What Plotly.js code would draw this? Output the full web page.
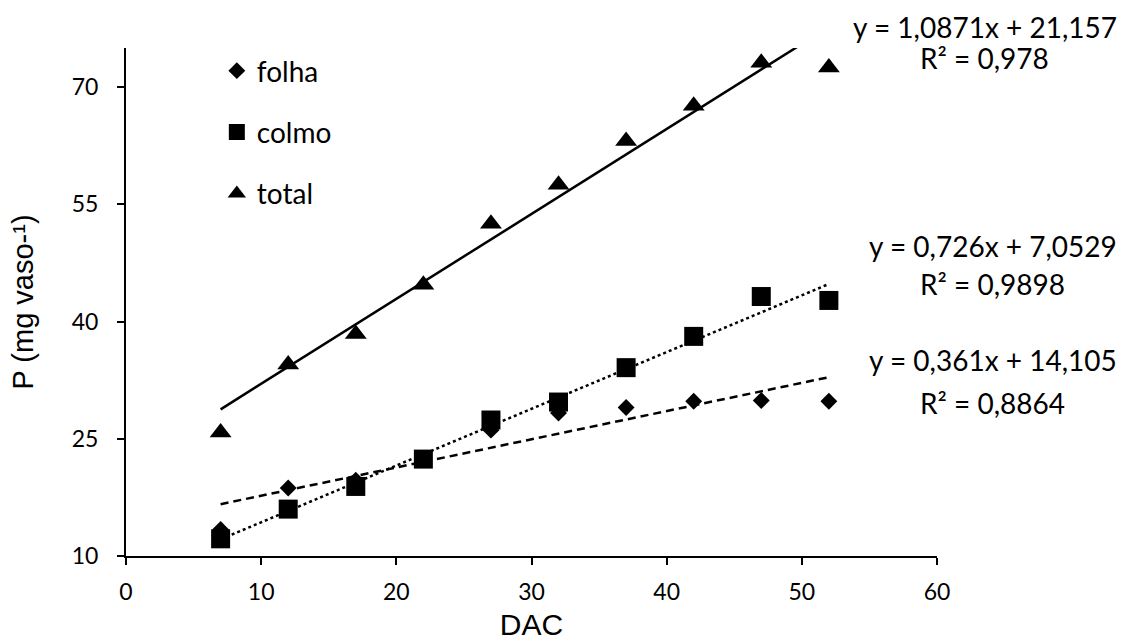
<!DOCTYPE html>
<html>
<head>
<meta charset="utf-8">
<script src="https://cdn.plot.ly/plotly-3.0.1.min.js"></script>
<style>html,body{margin:0;padding:0;background:#fff}#chart{width:1130px;height:644px}</style>
</head>
<body>
<div id="chart"></div>
<script>
var dac = [7, 12, 17, 22, 27, 32, 37, 42, 47, 52];
var folha = [13.4, 18.7, 19.7, 22.4, 26.1, 28.3, 29.0, 29.8, 29.9, 29.8];
var colmo = [12.2, 16.0, 18.9, 22.4, 27.4, 29.7, 34.1, 38.1, 43.2, 42.7];
var total = [25.8, 34.5, 38.4, 44.7, 52.5, 57.5, 63.1, 67.6, 73.1, 72.5];
var fitFolha = {a: 0.361, b: 14.105, r2: "0,8864", eq: "y = 0,361x + 14,105"};
var fitColmo = {a: 0.726, b: 7.0529, r2: "0,9898", eq: "y = 0,726x + 7,0529"};
var fitTotal = {a: 1.0871, b: 21.157, r2: "0,978", eq: "y = 1,0871x + 21,157"};
var xTicks = [0, 10, 20, 30, 40, 50, 60];
var yTicks = [10, 25, 40, 55, 70];

function line(f) {
  var xs = [dac[0], dac[dac.length - 1]];
  return {x: xs, y: xs.map(function (v) { return f.a * v + f.b; })};
}
var lf = line(fitFolha), lc = line(fitColmo), lt = line(fitTotal);

var traces = [
  {x: lf.x, y: lf.y, mode: 'lines', line: {color: '#000', width: 2.5, dash: '8px,5px'}, showlegend: false, hoverinfo: 'skip'},
  {x: lc.x, y: lc.y, mode: 'lines', line: {color: '#000', width: 2.5, dash: 'dot'}, showlegend: false, hoverinfo: 'skip'},
  {x: lt.x, y: lt.y, mode: 'lines', line: {color: '#000', width: 2.5}, showlegend: false, hoverinfo: 'skip'},
  {x: dac, y: folha, name: 'folha', mode: 'markers', marker: {symbol: 'diamond', size: 13, color: '#000'}, legendgroup: 'a'},
  {x: dac, y: colmo, name: 'colmo', mode: 'markers', marker: {symbol: 'square', size: 19, color: '#000'}, legendgroup: 'b'},
  {x: dac, y: total, name: 'total', mode: 'markers', marker: {symbol: 'triangle-up', size: 19, color: '#000'}, legendgroup: 'c'}
];

var annFont = {family: 'Lato, Carlito, sans-serif', size: 28, color: '#000'};
function ann(text, x, y) {
  return {text: text, xref: 'paper', yref: 'paper', x: x, y: y, xanchor: 'center', yanchor: 'middle', showarrow: false, font: annFont};
}

var layout = {
  width: 1130, height: 644,
  margin: {l: 126, r: 193, t: 48, b: 88},
  paper_bgcolor: '#fff', plot_bgcolor: '#fff',
  showlegend: true,
  legend: {x: 0.112, y: 1.004, xanchor: 'left', yanchor: 'top', traceorder: 'grouped', tracegroupgap: 22,
           font: {family: 'Lato, Carlito, sans-serif', size: 28, color: '#000'}, bgcolor: 'rgba(0,0,0,0)'},
  xaxis: {range: [0, 60], tickvals: xTicks, ticktext: xTicks.map(String), showgrid: false, zeroline: false,
          showline: true, linecolor: '#000', linewidth: 2, ticks: 'outside', ticklen: 7, tickwidth: 2, tickcolor: '#000',
          ticklabelstandoff: 7,
          tickfont: {family: 'Lato, Carlito, sans-serif', size: 23, color: '#000'},
          title: {text: 'DAC', font: {family: 'Liberation Sans, Arial, sans-serif', size: 30, color: '#000'}, standoff: 10}},
  yaxis: {range: [10, 75], tickvals: yTicks, ticktext: yTicks.map(String), showgrid: false, zeroline: false,
          showline: true, linecolor: '#000', linewidth: 2, ticks: 'outside', ticklen: 7, tickwidth: 2, tickcolor: '#000',
          ticklabelstandoff: 14,
          tickfont: {family: 'Lato, Carlito, sans-serif', size: 23, color: '#000'},
          title: {text: 'P (mg vaso-¹)', font: {family: 'Liberation Sans, Arial, sans-serif', size: 29, color: '#000'}, standoff: 30}},
  annotations: [
    ann(fitTotal.eq, 1.059, 1.041), ann('R² = ' + fitTotal.r2, 1.059, 0.980),
    ann(fitColmo.eq, 1.069, 0.610), ann('R² = ' + fitColmo.r2, 1.069, 0.535),
    ann(fitFolha.eq, 1.069, 0.386), ann('R² = ' + fitFolha.r2, 1.069, 0.301)
  ]
};

Plotly.newPlot('chart', traces, layout, {displayModeBar: false, staticPlot: true});
</script>
</body>
</html>
